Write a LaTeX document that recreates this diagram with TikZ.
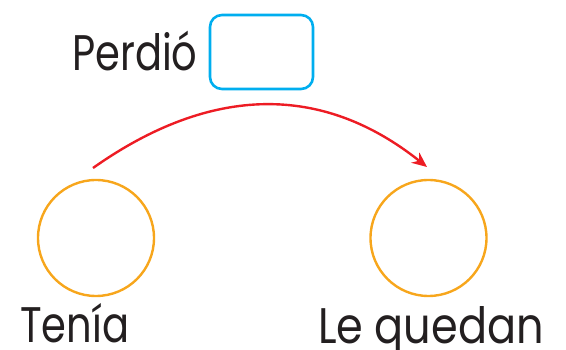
\documentclass[tikz,border=0pt]{standalone}
\usepackage{fontspec}
\setmainfont{Poppins}[FakeStretch=0.8]
\usetikzlibrary{arrows.meta}
\definecolor{cajaazul}{RGB}{0,174,239}
\definecolor{anillo}{RGB}{247,166,28}
\definecolor{flecha}{RGB}{237,28,36}
\definecolor{texto}{RGB}{35,31,32}
\begin{document}
\begin{tikzpicture}[
    x=1pt, y=-1pt,
    etiqueta/.style={anchor=base west, inner sep=0pt, text=texto,
                     font=\fontsize{50}{60}\selectfont},
    caja/.style={draw=cajaazul, line width=2.6pt, rounded corners=12pt,
                 minimum width=103pt, minimum height=74pt, inner sep=0pt},
    anillo/.style={draw=anillo, circle, line width=2.4pt,
                   minimum size=116pt, inner sep=0pt},
    flecha/.style={draw=flecha, line width=2.4pt, -{Stealth[length=15pt, width=13pt]}},
]
\useasboundingbox (0,0) rectangle (566,350);
\node[caja] (hueco) at (261.5,52) {};
\node[etiqueta] (perdio) at (72,71) {Perdió};
\node[anillo] (tenia) at (96,238) {};
\node[anillo] (quedan) at (428.5,238) {};
\node[etiqueta] (teniatxt) at (20,343) {Tenía};
\node[etiqueta] (quedantxt) at (318,344) {\addfontfeatures{FakeStretch=0.86}Le quedan};
\coordinate (inicio) at (93,168);
\coordinate (fin) at (427,167);
\draw[flecha] (inicio) .. controls (212,84) and (323,84) .. (fin);
\end{tikzpicture}
\end{document}
